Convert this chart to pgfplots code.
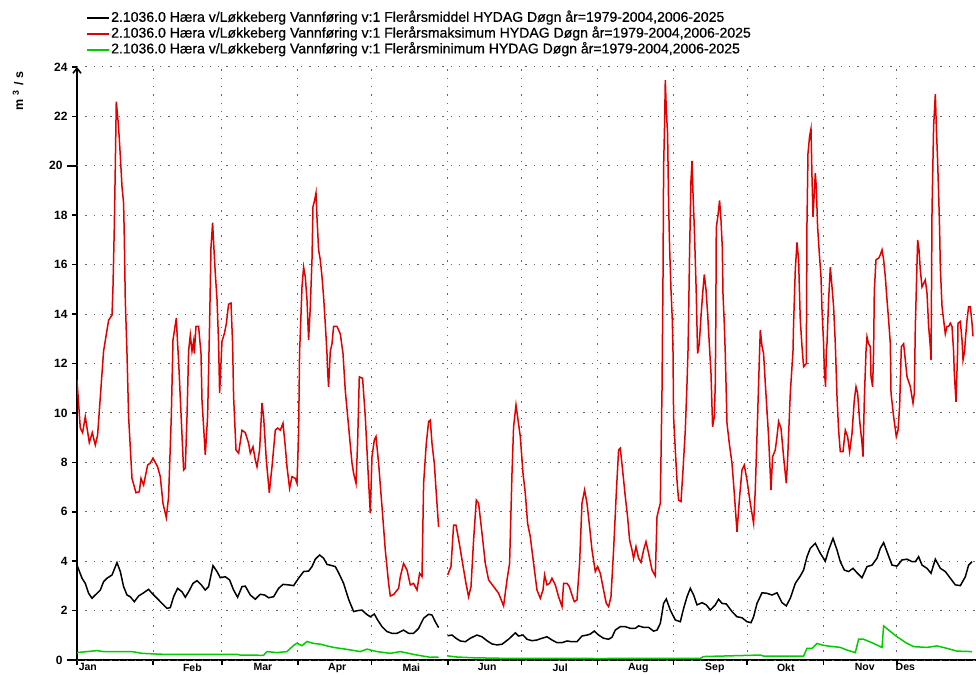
\documentclass[border=0pt]{standalone}
\usepackage{pgfplots}
\pgfplotsset{compat=1.18}
\usepackage{fontspec}
\setmainfont{Liberation Sans}
\newfontfamily\legendfont[FakeBold=0.6]{Liberation Sans}
\usetikzlibrary{arrows.meta}
\definecolor{cred}{RGB}{225,0,0}
\definecolor{cgreen}{RGB}{0,205,0}
\begin{document}
\begin{tikzpicture}
\useasboundingbox (0,0) rectangle (976bp,675bp);
\begin{axis}[
  at={(77bp,15bp)}, anchor=south west,
  scale only axis, width=899bp, height=593bp,
  xmin=1, xmax=367.2, ymin=0, ymax=24,
  axis lines=left,
  x axis line style={-, line width=1.6bp},
  y axis line style={-{Straight Barb[length=5bp,width=8bp]}, line width=1.6bp},
  tick align=outside,
  xtick={1,32,60,91,121,152,182,213,244,274,305,335},
  xticklabels={},
  major tick length=5bp,
  tick style={black, line width=1.6bp},
  ytick={2,4,...,18,22,24},
  extra y ticks={0,20},
  extra y tick style={major tick length=10bp},
  extra x ticks={5.4,48,76.7,107,137.2,168.1,197.8,229.6,260.8,289.7,321.9,338.4},
  extra x tick labels={Jan,Feb,Mar,Apr,Mai,Jun,Jul,Aug,Sep,Okt,Nov,Des},
  extra x tick style={major tick length=0pt, grid=none},
  grid=major,
  grid style={dash pattern=on 1.3bp off 7bp, line width=1bp, black!60},
  xticklabel style={font=\fontsize{10.5bp}{12bp}\selectfont\bfseries},
  yticklabel style={font=\fontsize{12bp}{14bp}\selectfont\bfseries, xshift=-1bp},
  /pgf/number format/assume math mode=true,
  unbounded coords=jump,
  legend image code/.code={\draw[#1, line width=1.6bp] (0bp,0bp) -- (22bp,0bp);},
  legend style={draw=none, fill=none, at={(0.0100,1)}, anchor=south west, yshift=9bp,
    font=\legendfont\fontsize{14.05bp}{16bp}\selectfont, cells={anchor=west}, row sep=0pt, inner sep=0pt,
    nodes={text height=10bp, text depth=3bp, inner sep=1.4bp}},
]
\addplot[black, line width=1.5bp] coordinates {
(1.0,3.84) (3.04,3.31) (4.38,3.1) (5.73,2.7) (7.11,2.5) (8.45,2.63) (10.49,2.83) (11.83,3.17) (13.22,3.31) (15.26,3.44) (17.29,3.94) (18.64,3.58) (19.98,2.97) (21.37,2.63) (22.71,2.56) (24.34,2.36) (26.09,2.59) (28.13,2.72) (30.17,2.86) (31.55,2.7) (33.59,2.5) (35.62,2.29) (37.66,2.09) (39.0,2.12) (40.35,2.56) (41.98,2.9) (43.77,2.76) (45.11,2.54) (46.46,2.76) (48.25,3.1) (49.88,3.21) (51.63,3.04) (53.26,2.83) (54.6,2.97) (56.4,3.82) (58.03,3.58) (59.37,3.33) (61.41,3.37) (63.16,3.24) (64.79,2.83) (66.42,2.54) (68.21,2.97) (69.56,2.99) (71.59,2.63) (73.63,2.46) (75.66,2.66) (77.42,2.63) (79.05,2.52) (81.08,2.56) (83.12,2.9) (84.91,3.06) (87.19,3.04) (89.23,3.01) (91.27,3.31) (93.3,3.58) (95.34,3.6) (96.72,3.78) (98.07,4.08) (99.82,4.25) (101.45,4.12) (102.83,3.87) (104.87,3.82) (106.22,3.78) (107.56,3.53) (109.6,3.1) (111.63,2.46) (113.67,1.96) (115.3,2.0) (117.09,2.02) (118.84,1.86) (120.47,1.75) (122.1,1.86) (123.45,1.62) (125.24,1.35) (127.28,1.15) (129.31,1.08) (131.35,1.08) (134.03,1.21) (136.07,1.08) (138.11,1.08) (140.15,1.28) (142.19,1.69) (144.22,1.85) (145.6,1.82) (146.95,1.55) (148.29,1.31)
(150,nan)
(151.96,0.98) (153.75,1.01) (155.38,0.88) (157.13,0.77) (159.17,0.74) (161.2,0.88) (163.93,1.01) (165.97,0.94) (168.0,0.78) (170.04,0.65) (172.08,0.61) (174.12,0.64) (176.8,0.84) (178.19,0.97) (179.53,1.1) (180.88,0.97) (182.67,1.01) (184.3,0.84) (186.34,0.78) (188.37,0.81) (190.41,0.88) (192.45,0.94) (194.48,0.81) (196.52,0.7) (198.56,0.7) (200.59,0.77) (202.63,0.74) (204.66,0.74) (206.7,0.97) (208.74,1.01) (210.08,1.05) (211.71,1.17) (213.46,1.01) (215.5,0.88) (217.54,0.84) (218.92,0.92) (220.26,1.21) (222.3,1.35) (224.34,1.35) (226.37,1.28) (228.41,1.28) (229.76,1.38) (231.79,1.32) (233.83,1.32) (235.87,1.17) (237.26,1.21) (238.6,1.48) (239.95,2.29) (241.04,2.47) (242.67,2.02) (244.71,1.62) (246.75,1.55) (248.1,2.09) (249.48,2.56) (250.83,2.9) (252.17,2.63) (253.56,2.23) (255.59,2.32) (257.35,2.23) (258.98,2.02) (261.0,2.23) (262.34,2.46) (263.73,2.29) (265.48,2.27) (267.8,1.96) (269.84,1.75) (271.87,1.71) (273.91,1.55) (275.54,1.51) (276.6,1.75) (277.99,2.29) (280.02,2.72) (282.06,2.7) (284.1,2.63) (286.13,2.72) (288.17,2.32) (289.92,2.19) (291.55,2.5) (293.59,3.1) (295.62,3.4) (296.97,3.64) (298.35,4.18) (299.7,4.52) (301.74,4.72) (303.77,4.32) (305.81,4.0) (307.16,4.45) (308.95,4.92) (310.58,4.45) (311.92,3.98) (313.55,3.64) (315.3,3.58) (317.1,3.71) (318.73,3.53) (320.76,3.33) (322.8,3.78) (324.84,3.84) (326.87,4.12) (328.22,4.52) (329.57,4.75) (330.95,4.38) (332.99,3.84) (335.03,3.8) (337.07,4.05) (339.1,4.08) (341.14,3.98) (342.48,3.98) (343.83,4.18) (345.2,3.84) (347.24,3.71) (348.88,3.51) (350.63,4.08) (352.67,3.71) (354.7,3.58) (356.74,3.31) (358.78,3.04) (360.81,3.01) (362.85,3.37) (364.19,3.84) (365.57,3.98)
};
\addlegendentry{2.1036.0 Hæra v/Løkkeberg Vannføring v:1 Flerårsmiddel HYDAG Døgn år=1979-2004,2006-2025}
\addplot[cred, line width=1.5bp] coordinates {
(1.0,11.33) (2.34,9.39) (3.28,9.2) (4.38,9.85) (6.01,8.8) (7.23,9.2) (8.45,8.7) (9.39,9.1) (11.83,12.5) (13.87,13.75) (15.26,13.96) (15.66,15.1) (16.19,17.5) (16.6,19.96) (17.0,22.6) (17.7,21.85) (18.23,21.1) (18.64,20.4) (19.33,19.15) (19.98,18.5) (20.27,17.1) (20.67,14.57) (21.37,12.4) (22.02,9.85) (23.4,7.35) (25.03,6.77) (26.38,6.81) (27.07,7.35) (28.13,7.08) (29.76,7.89) (30.86,7.97) (31.96,8.17) (33.83,7.82) (34.93,7.42) (36.03,6.34) (37.38,5.76) (38.31,6.61) (39.41,9.85) (40.1,12.95) (41.45,13.84) (41.98,12.8) (42.39,12.1) (44.42,7.69) (45.11,7.77) (45.81,9.85) (46.46,12.5) (47.15,13.15) (47.84,12.5) (48.5,12.9) (48.78,12.4) (49.47,13.5) (50.53,13.5) (51.51,12.4) (51.92,10.5) (53.26,8.3) (54.2,9.85) (55.01,13.6) (55.58,16.7) (56.23,17.7) (56.64,16.9) (57.33,15.65) (58.03,14.6) (58.68,12.8) (59.09,10.8) (60.06,12.9) (61.0,13.2) (61.81,13.6) (62.75,14.4) (63.73,14.45) (64.38,12.8) (64.79,10.65) (65.77,8.5) (66.83,8.37) (68.21,9.3) (69.56,9.2) (70.9,8.77) (71.59,8.37) (72.69,8.63) (73.63,8.1) (74.32,7.82) (75.38,8.5) (76.36,10.4) (77.01,9.85) (78.11,8.1) (79.33,6.77) (80.43,7.82) (81.78,9.3) (82.71,9.39) (83.81,9.3) (84.91,9.58) (85.85,8.63) (86.54,7.82) (87.6,6.95) (88.58,7.42) (89.92,7.35) (90.61,7.15) (91.27,9.18) (91.67,12.5) (91.96,13.2) (92.65,15.1) (93.3,15.9) (94.0,15.5) (94.69,14.57) (95.34,12.95) (96.03,14.3) (96.72,16.2) (97.13,18.35) (97.78,18.6) (98.35,18.9) (98.76,17.9) (99.41,16.6) (100.1,16.2) (100.8,15.5) (101.45,14.7) (102.14,13.6) (102.83,12.4) (103.08,11.7) (103.48,11.06) (104.18,12.5) (104.87,12.8) (105.52,13.5) (106.9,13.5) (108.25,13.2) (109.35,12.4) (110.29,10.9) (111.63,9.45) (113.02,7.97) (113.67,7.56) (114.65,7.15) (115.3,8.77) (115.99,11.46) (117.33,11.4) (118.43,9.85) (119.53,7.69) (120.47,5.94) (121.16,8.23) (122.1,8.9) (122.79,9.04) (123.85,7.97) (125.24,6.2) (126.58,4.45) (127.93,3.1) (128.62,2.59) (129.96,2.65) (132.0,2.9) (132.69,3.37) (134.03,3.91) (135.42,3.64) (136.77,3.04) (138.11,3.1) (139.5,2.83) (140.56,3.51) (141.53,3.37) (142.19,7.15) (143.28,8.77) (144.22,9.65) (144.91,9.71) (145.6,8.77) (146.54,7.96) (147.35,6.75) (148.29,5.39)
(150,nan)
(151.96,3.44) (153.34,3.78) (154.4,5.46) (155.38,5.46) (156.72,4.72) (158.07,3.91) (159.45,3.1) (160.51,2.56) (161.49,2.97) (162.55,4.86) (163.65,6.47) (164.59,6.34) (165.97,5.13) (167.32,3.91) (168.66,3.24) (170.7,2.97) (172.73,2.7) (174.77,2.19) (176.15,3.24) (177.21,3.91) (178.19,7.56) (178.84,9.44) (179.82,10.32) (180.47,9.85) (181.57,9.04) (182.67,7.56) (183.61,6.75) (184.55,5.53) (185.64,4.99) (186.99,3.91) (188.37,2.83) (189.72,2.5) (190.82,2.83) (191.47,3.44) (192.45,3.04) (193.5,3.1) (194.48,3.31) (195.83,3.04) (197.17,2.56) (198.56,2.16) (199.21,3.1) (200.59,3.1) (201.53,2.97) (202.63,2.63) (203.56,2.36) (204.66,2.43) (205.72,3.91) (206.7,6.34) (207.76,6.88) (208.74,6.34) (209.8,5.39) (210.78,4.45) (212.12,3.58) (213.06,3.78) (214.16,3.51) (215.5,2.83) (216.6,2.29) (217.54,2.16) (218.51,2.56) (219.57,4.45) (220.67,6.75) (221.61,8.5) (222.3,8.57) (223.24,7.69) (224.34,6.61) (225.27,5.8) (226.09,4.86) (227.07,4.45) (227.72,4.12) (228.7,4.59) (229.76,4.12) (230.74,3.95) (231.79,4.45) (232.77,4.79) (233.83,4.32) (235.22,3.64) (236.56,3.4) (237.26,5.8) (237.91,6.07) (238.6,6.34) (239.29,10.9) (239.7,15.5) (239.95,19.96) (240.35,21.7) (240.64,23.47) (241.04,22.26) (241.57,21.3) (241.98,18.5) (242.39,16.7) (242.96,14.97) (243.49,13.76) (243.77,12.5) (244.02,9.85) (244.71,8.5) (245.4,7.28) (246.05,6.47) (247.03,6.41) (247.85,7.69) (248.78,9.3) (249.48,11.2) (249.88,12.5) (250.13,13.9) (250.54,16.6) (251.1,19.4) (251.51,20.2) (251.92,18.9) (252.45,17.5) (252.85,16.2) (253.26,14.8) (253.79,12.4) (254.48,12.8) (255.18,13.9) (255.83,14.8) (256.52,15.6) (257.21,15.0) (257.87,14.03) (258.56,12.8) (259.25,11.6) (259.9,9.44) (260.6,9.85) (261.0,11.2) (261.2,13.6) (261.41,17.5) (262.1,18.0) (262.75,18.6) (263.32,17.8) (263.85,16.7) (264.14,14.8) (264.67,13.6) (265.07,12.4) (265.77,9.58) (266.7,8.77) (267.8,7.96) (268.74,6.75) (269.84,5.19) (270.9,6.61) (271.87,7.69) (272.81,7.89) (273.91,7.28) (275.26,6.34) (276.6,5.53) (277.29,6.88) (278.23,9.85) (279.05,12.5) (279.33,13.36) (280.02,12.7) (280.67,12.4) (281.37,11.2) (282.71,9.04) (283.69,6.88) (284.34,8.23) (285.44,8.5) (286.13,9.04) (286.79,9.65) (287.76,9.38) (288.82,8.23) (289.92,7.15) (290.45,8.09) (291.55,10.8) (292.65,12.5) (292.89,13.6) (293.59,15.8) (294.28,16.9) (294.93,16.2) (295.62,13.76) (296.31,12.7) (296.97,11.87) (298.07,12.0) (298.35,17.67) (298.76,20.5) (299.41,21.2) (299.98,21.5) (300.39,19.56) (300.8,17.94) (301.33,18.9) (301.74,19.7) (302.14,19.15) (302.67,17.54) (303.37,16.46) (304.06,15.5) (304.47,14.16) (305.12,12.8) (305.41,11.7) (305.94,11.06) (306.22,12.5) (306.5,12.8) (307.16,14.57) (307.85,15.9) (308.54,15.1) (309.19,14.3) (309.89,12.8) (310.58,10.66) (311.23,9.3) (311.92,8.43) (313.02,8.43) (313.96,9.3) (314.9,9.04) (315.71,8.43) (316.69,9.17) (317.62,10.52) (318.32,11.06) (318.97,10.8) (319.78,9.71) (320.76,8.77) (321.17,8.23) (321.7,10.52) (322.39,12.5) (322.8,13.08) (323.45,12.8) (324.15,12.68) (324.43,11.46) (325.08,11.06) (325.49,12.5) (325.78,14.97) (326.47,16.2) (327.53,16.26) (328.22,16.4) (328.91,16.6) (329.57,16.2) (330.26,15.5) (330.95,14.57) (331.6,13.76) (332.3,12.8) (332.58,10.8) (333.64,9.85) (334.74,9.04) (335.43,9.3) (336.08,10.25) (336.78,12.68) (337.71,12.8) (338.12,12.4) (338.41,12.14) (339.1,11.46) (340.44,11.06) (341.54,10.39) (342.07,10.8) (342.48,13.5) (343.42,17.0) (343.99,16.6) (344.5,15.8) (345.2,15.1) (345.86,15.24) (346.55,15.38) (347.24,14.84) (347.9,13.5) (348.59,12.68) (348.88,12.14) (349.28,18.2) (349.93,21.6) (350.63,22.9) (351.03,21.6) (351.56,20.2) (351.97,18.9) (352.38,17.4) (352.66,15.9) (353.36,14.3) (354.01,13.76) (354.7,13.2) (355.39,13.5) (356.04,13.5) (356.73,13.63) (357.42,13.5) (358.07,12.5) (358.36,11.6) (359.05,10.45) (359.71,12.5) (359.87,13.63) (360.81,13.7) (361.5,12.95) (361.91,12.14) (362.56,12.5) (362.85,12.95) (363.54,13.76) (364.19,14.3) (364.88,14.3) (365.57,13.63) (365.98,13.1)
};
\addlegendentry{2.1036.0 Hæra v/Løkkeberg Vannføring v:1 Flerårsmaksimum HYDAG Døgn år=1979-2004,2006-2025}
\addplot[cgreen, line width=1.5bp] coordinates {
(1,0.3) (9.15,0.38) (11.71,0.34) (23.4,0.34) (27.48,0.27) (33.59,0.24) (36.28,0.23) (66.17,0.23) (67.52,0.2) (77.01,0.19) (78.39,0.34) (82.47,0.3) (86.54,0.34) (87.89,0.47) (89.51,0.61) (90.61,0.68) (92.65,0.58) (94.69,0.75) (97.37,0.67) (100.1,0.64) (102.83,0.57) (105.52,0.51) (110.98,0.43) (116.4,0.34) (119.13,0.44) (123.2,0.34) (128.62,0.27) (132.69,0.34) (139.5,0.2) (144.91,0.11) (147.64,0.12) (148.29,0.1)
(150,nan)
(151.7,0.17) (155.79,0.12) (162.55,0.09) (173.42,0.07) (214.16,0.06) (254.9,0.07) (256.25,0.14) (279.33,0.2) (280.67,0.16) (296.97,0.16) (298.35,0.47) (300.39,0.47) (302.43,0.67) (304.47,0.61) (306.5,0.57) (311.92,0.51) (314.65,0.4) (318.03,0.3) (319.37,0.84) (321.41,0.84) (325.49,0.67) (328.91,0.51) (329.57,1.38) (331.6,1.21) (335.03,0.94) (339.1,0.67) (341.8,0.54) (347.24,0.51) (351.31,0.57) (355.39,0.47) (359.46,0.36) (365.57,0.34)
};
\addlegendentry{2.1036.0 Hæra v/Løkkeberg Vannføring v:1 Flerårsminimum HYDAG Døgn år=1979-2004,2006-2025}
\end{axis}
\node[rotate=90, font=\fontsize{12.5bp}{14bp}\selectfont\bfseries] at (18bp,584bp) {m\,\,\textsuperscript{3}\,\,/\,\,s};
\end{tikzpicture}
\end{document}
